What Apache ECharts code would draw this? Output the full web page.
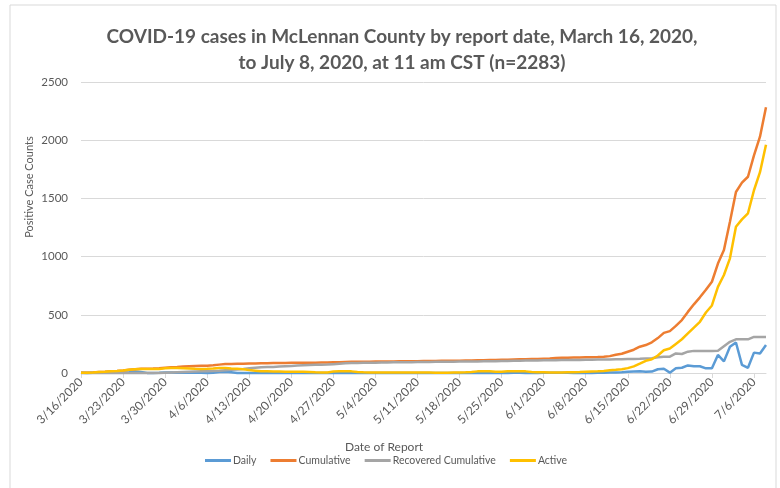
<!DOCTYPE html>
<html>
<head>
<meta charset="utf-8">
<script src="https://cdn.jsdelivr.net/npm/echarts@6/dist/echarts.min.js"></script>
<style>
  html, body { margin: 0; padding: 0; background: #fff; }
  #chart { width: 780px; height: 488px; }
</style>
</head>
<body>
<div id="chart"></div>
<script>
// report dates, 3/16/2020 - 7/8/2020
const dates = [
  "3/16/2020","3/17/2020","3/18/2020","3/19/2020","3/20/2020","3/21/2020","3/22/2020",
  "3/23/2020","3/24/2020","3/25/2020","3/26/2020","3/27/2020","3/28/2020","3/29/2020",
  "3/30/2020","3/31/2020","4/1/2020","4/2/2020","4/3/2020","4/4/2020","4/5/2020",
  "4/6/2020","4/7/2020","4/8/2020","4/9/2020","4/10/2020","4/11/2020","4/12/2020",
  "4/13/2020","4/14/2020","4/15/2020","4/16/2020","4/17/2020","4/18/2020","4/19/2020",
  "4/20/2020","4/21/2020","4/22/2020","4/23/2020","4/24/2020","4/25/2020","4/26/2020",
  "4/27/2020","4/28/2020","4/29/2020","4/30/2020","5/1/2020","5/2/2020","5/3/2020",
  "5/4/2020","5/5/2020","5/6/2020","5/7/2020","5/8/2020","5/9/2020","5/10/2020",
  "5/11/2020","5/12/2020","5/13/2020","5/14/2020","5/15/2020","5/16/2020","5/17/2020",
  "5/18/2020","5/19/2020","5/20/2020","5/21/2020","5/22/2020","5/23/2020","5/24/2020",
  "5/25/2020","5/26/2020","5/27/2020","5/28/2020","5/29/2020","5/30/2020","5/31/2020",
  "6/1/2020","6/2/2020","6/3/2020","6/4/2020","6/5/2020","6/6/2020","6/7/2020",
  "6/8/2020","6/9/2020","6/10/2020","6/11/2020","6/12/2020","6/13/2020","6/14/2020",
  "6/15/2020","6/16/2020","6/17/2020","6/18/2020","6/19/2020","6/20/2020","6/21/2020",
  "6/22/2020","6/23/2020","6/24/2020","6/25/2020","6/26/2020","6/27/2020","6/28/2020",
  "6/29/2020","6/30/2020","7/1/2020","7/2/2020","7/3/2020","7/4/2020","7/5/2020",
  "7/6/2020","7/7/2020","7/8/2020"
];

const daily = [
  2, 1, 2, 3, 2, 5, 3,
  4, 6, 12, 8, 1, 1, 2,
  5, 5, 2, 3, 3, 2, 2,
  1, 3, 8, 10, 6, 1, 1,
  1, 1, 1, 1, 1, 1, 0,
  1, 0, 1, 0, 1, 1, 0,
  2, 1, 2, 1, 0, 1, 0,
  1, 0, 1, 0, 1, 0, 1,
  1, 1, 1, 0, 1, 0, 1,
  0, 1, 1, 1, 1, 1, 1,
  1, 1, 2, 2, 1, 1, 1,
  2, 2, 3, 2, 2, 1, 1,
  1, 0, 2, 3, 5, 5, 6,
  10, 12, 14, 10, 12, 32, 36,
  3, 40, 45, 65, 58, 58, 40,
  40, 155, 100, 225, 262, 70, 45,
  175, 168, 240
];

const cumulative = [
  2, 3, 5, 8, 10, 15, 18,
  22, 28, 33, 36, 37, 38, 40,
  45, 50, 52, 55, 58, 60, 62,
  63, 66, 72, 77, 78, 79, 80,
  81, 82, 83, 84, 85, 86, 86,
  87, 87, 88, 88, 89, 90, 90,
  92, 93, 95, 96, 96, 97, 97,
  98, 98, 99, 99, 100, 100, 101,
  102, 103, 104, 104, 105, 105, 106,
  106, 107, 108, 109, 110, 111, 112,
  113, 114, 116, 118, 119, 120, 121,
  123, 125, 128, 130, 132, 133, 134,
  135, 135, 137, 140, 145, 157, 165,
  183, 200, 226, 240, 264, 300, 345,
  360, 405, 455, 525, 590, 650, 715,
  784, 940, 1057, 1300, 1555, 1635, 1686,
  1870, 2030, 2283
];

const recovered = [
  0, 0, 0, 0, 0, 0, 0,
  0, 0, 0, 0, 0, 0, 0,
  2, 4, 6, 8, 10, 12, 14,
  15, 17, 20, 24, 28, 31, 35,
  40, 45, 50, 51, 52, 55, 58,
  61, 64, 67, 69, 70, 71, 72,
  76, 80, 83, 85, 86, 87, 88,
  89, 90, 91, 92, 92, 93, 93,
  94, 95, 95, 96, 96, 97, 97,
  98, 98, 99, 99, 100, 101, 102,
  103, 104, 105, 106, 107, 107, 108,
  109, 110, 110, 111, 111, 112, 112,
  113, 114, 115, 116, 117, 118, 119,
  120, 121, 122, 124, 126, 135, 140,
  140, 168, 163, 183, 190, 190, 190,
  190, 192, 230, 268, 289, 289, 289,
  310, 310, 310
];

const active = [
  2, 3, 5, 8, 10, 14, 17,
  21, 27, 32, 34, 35, 35, 35,
  40, 43, 42, 40, 38, 36, 35,
  36, 38, 43, 42, 38, 36, 32,
  25, 20, 15, 14, 12, 12, 11,
  11, 10, 10, 8, 6, 5, 5,
  12, 14, 16, 14, 8, 6, 5,
  5, 4, 4, 4, 4, 5, 5,
  5, 5, 4, 2, 2, 3, 4,
  5, 6, 8, 14, 15, 14, 10,
  10, 14, 15, 15, 14, 8, 6,
  6, 5, 5, 5, 6, 7, 8,
  10, 12, 14, 18, 24, 28, 33,
  42, 57, 80, 105, 118, 150, 195,
  210, 250, 290, 340, 390, 440, 520,
  580, 740, 842, 985, 1257, 1320, 1372,
  1570, 1725, 1960
];

const yTicks = [0, 500, 1000, 1500, 2000, 2500];

const textColor = "#595959";
const font = "Lato, 'Open Sans', sans-serif";

const chart = echarts.init(document.getElementById("chart"));

function line(name, data, color) {
  return {
    name: name,
    type: "line",
    data: data,
    symbol: "none",
    clip: false,
    lineStyle: { width: 2.5, color: color },
    itemStyle: { color: color },
    emphasis: { disabled: true }
  };
}

chart.setOption({
  animation: false,
  textStyle: { fontFamily: font },
  title: {
    text: "COVID-19 cases in McLennan County by report date, March 16, 2020,\nto July 8, 2020, at 11 am CST (n=2283)",
    left: 397,
    top: 19,
    textAlign: "center",
    textStyle: {
      fontFamily: font,
      fontSize: 19,
      fontWeight: "bold",
      color: textColor,
      lineHeight: 26
    }
  },
  legend: {
    bottom: 17,
    left: 200,
    itemWidth: 26,
    itemHeight: 3,
    itemGap: 14,
    icon: "rect",
    textStyle: { fontFamily: font, fontSize: 10.5, color: textColor, padding: [0, 0, 0, -3] },
    data: ["Daily", "Cumulative", "Recovered Cumulative", "Active"]
  },
  graphic: [
    {
      type: "rect",
      shape: { x: 10, y: 5, width: 766, height: 490 },
      style: { fill: "none", stroke: "#d9d9d9", lineWidth: 1 },
      silent: true
    },
    {
      type: "text",
      x: 29,
      y: 187,
      rotation: Math.PI / 2,
      style: {
        text: "Positive Case Counts",
        fill: textColor,
        font: "11px " + font,
        textAlign: "center",
        textVerticalAlign: "middle"
      }
    },
    {
      type: "text",
      x: 384,
      y: 447,
      style: {
        text: "Date of Report",
        fill: textColor,
        font: "12px " + font,
        textAlign: "center",
        textVerticalAlign: "middle"
      }
    }
  ],
  grid: { left: 81, right: 14, top: 82, bottom: 115 },
  xAxis: {
    type: "category",
    data: dates,
    boundaryGap: false,
    axisLine: { lineStyle: { color: "#d9d9d9", width: 1 } },
    axisTick: { interval: 6, length: 5, lineStyle: { color: "#d9d9d9" } },
    axisLabel: {
      interval: 6,
      rotate: 45,
      fontSize: 12,
      color: textColor,
      margin: 7
    }
  },
  yAxis: {
    type: "value",
    min: yTicks[0],
    max: yTicks[yTicks.length - 1],
    interval: 500,
    axisLine: { show: false },
    axisTick: { show: false },
    splitLine: { lineStyle: { color: "#d9d9d9", width: 1 } },
    axisLabel: {
      fontSize: 11.5,
      color: textColor,
      margin: 13,
      formatter: function (v) { return String(v); }
    }
  },
  series: [
    line("Daily", daily, "#5B9BD5"),
    line("Cumulative", cumulative, "#ED7D31"),
    line("Recovered Cumulative", recovered, "#A5A5A5"),
    line("Active", active, "#FFC000")
  ]
});
</script>
</body>
</html>
